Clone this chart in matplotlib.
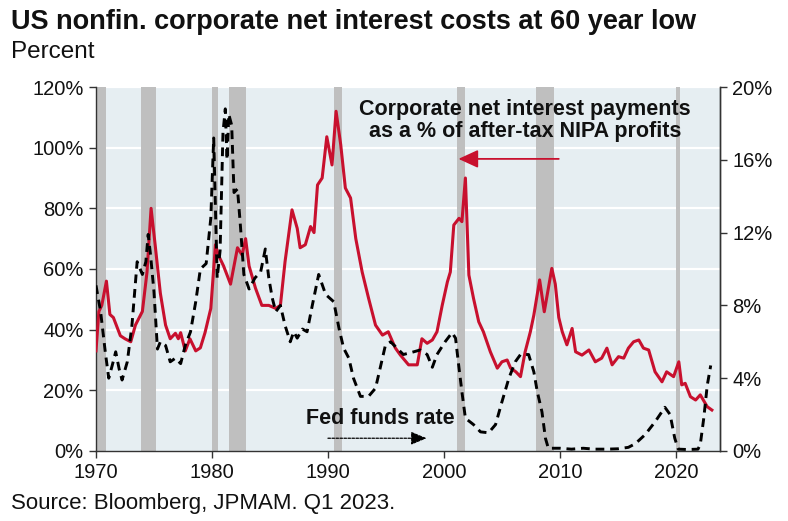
import matplotlib
matplotlib.use("Agg")
import matplotlib.pyplot as plt
from matplotlib.ticker import FixedLocator, FuncFormatter

plt.rcParams["font.family"] = ["Liberation Sans", "DejaVu Sans"]

# Corporate net interest payments as % of after-tax NIPA profits (left axis)
corp_years = [1970.0, 1970.25, 1970.5, 1970.9, 1971.2, 1971.5, 1971.8, 1972.1, 1972.5, 1973.0,
              1973.4, 1974.0, 1974.4, 1974.75, 1975.1, 1975.55, 1976.0, 1976.4, 1976.85, 1977.1,
              1977.3, 1977.7, 1978.1, 1978.6, 1979.0, 1979.4, 1979.9, 1980.3, 1980.55, 1981.0,
              1981.6, 1982.2, 1982.6, 1982.9, 1983.2, 1983.75, 1984.3, 1984.9, 1985.5, 1985.9,
              1986.3, 1986.9, 1987.35, 1987.6, 1988.05, 1988.5, 1988.8, 1989.1, 1989.5, 1989.9,
              1990.35, 1990.7, 1991.1, 1991.5, 1991.95, 1992.4, 1992.95, 1993.5, 1994.1, 1994.7,
              1995.2, 1995.8, 1996.25, 1996.95, 1997.7, 1998.1, 1998.55, 1999.0, 1999.4, 1999.85,
              2000.3, 2000.55, 2000.85, 2001.3, 2001.55, 2001.85, 2002.15, 2002.55, 2003.0, 2003.4,
              2004.0, 2004.6, 2005.0, 2005.45, 2005.75, 2006.2, 2006.6, 2007.0, 2007.45, 2007.75,
              2008.25, 2008.65, 2009.3, 2009.6, 2009.9, 2010.2, 2010.6, 2011.05, 2011.35, 2011.9,
              2012.5, 2013.05, 2013.6, 2014.05, 2014.5, 2015.05, 2015.5, 2015.9, 2016.35, 2016.8,
              2017.2, 2017.65, 2018.2, 2018.8, 2019.2, 2019.8, 2020.25, 2020.5, 2020.8, 2021.25,
              2021.7, 2022.1, 2022.7, 2023.1]
corp_values = [33, 46, 48, 56, 45, 44, 41, 38, 37, 36,
               41.5, 46, 59, 80, 68, 52, 41.5, 37, 38.8, 37,
               39, 33, 37, 33, 34, 39, 47, 68, 64.6, 61,
               55, 67, 64.6, 70, 61, 53.7, 48, 48, 47, 48,
               62.4, 79.5, 73.4, 67, 68, 74, 72, 87.7, 90, 103.6,
               94.3, 112, 101, 86.7, 83.4, 70, 59, 50.4, 41.5, 38.2,
               39.3, 34, 31.6, 28.4, 28.4, 37, 35.5, 36.6, 39.3, 48,
               55.8, 59, 74.5, 76.7, 75.6, 90, 58, 50.3, 42.6, 39.3,
               32.7, 27.3, 29.4, 30, 27.3, 26.1, 24.5, 32.7, 39.3, 44.8,
               56.4, 45.9, 60.2, 55, 44, 39.3, 35, 40.4, 32.7, 31.6,
               33.3, 29.4, 30.6, 33.9, 28.4, 31.1, 30.6, 33.9, 36, 36.6,
               33.9, 33.3, 26.1, 22.8, 26.1, 24.5, 29.4, 21.8, 22.3, 17.9,
               16.8, 18.5, 14.6, 13.5]

# Effective fed funds rate (right axis)
ffr_years = [1970.0, 1970.4, 1970.8, 1971.1, 1971.4, 1971.7, 1972.0, 1972.25, 1972.7, 1973.1,
             1973.55, 1974.0, 1974.3, 1974.5, 1974.7, 1975.0, 1975.3, 1975.55, 1976.0, 1976.4,
             1976.85, 1977.3, 1977.7, 1978.15, 1978.6, 1979.0, 1979.5, 1979.9, 1980.15, 1980.45,
             1980.7, 1980.95, 1981.15, 1981.3, 1981.45, 1981.7, 1981.9, 1982.2, 1982.45, 1982.75,
             1983.2, 1983.7, 1984.2, 1984.6, 1984.9, 1985.2, 1985.5, 1985.9, 1986.3, 1986.75,
             1987.05, 1987.35, 1987.8, 1988.2, 1988.65, 1989.2, 1989.8, 1990.5, 1990.95, 1991.35,
             1991.8, 1992.2, 1992.8, 1993.5, 1994.1, 1994.5, 1994.95, 1995.4, 1995.95, 1996.5,
             1997.4, 1997.95, 1998.55, 1999.0, 1999.4, 2000.1, 2000.7, 2001.0, 2001.3, 2001.55,
             2001.85, 2002.55, 2003.15, 2003.85, 2004.45, 2005.0, 2005.6, 2006.15, 2006.6, 2007.3,
             2007.75, 2008.05, 2008.45, 2008.75, 2009.0, 2010.0, 2011.0, 2012.0, 2013.0, 2014.0,
             2015.0, 2015.9, 2016.5, 2017.35, 2018.2, 2019.05, 2019.5, 2019.9, 2020.2, 2021.0,
             2021.9, 2022.1, 2022.4, 2022.7, 2023.0]
ffr_values = [9.1, 7.65, 5.45, 4.0, 4.7, 5.45, 4.5, 3.9, 4.9, 6.9,
              10.4, 9.7, 10.4, 11.9, 10.8, 8.75, 5.6, 6.0, 5.8, 4.9,
              5.1, 4.8, 5.8, 6.55, 8.2, 10.0, 10.3, 12.8, 17.2, 9.5,
              11.0, 17.5, 18.8, 16.0, 18.5, 17.9, 14.2, 14.4, 12.4, 9.7,
              8.9, 9.5, 9.85, 11.1, 9.5, 8.4, 7.65, 8.0, 6.9, 6.0,
              6.55, 6.2, 6.7, 6.55, 8.0, 9.7, 8.6, 8.2, 6.75, 5.65,
              5.1, 4.0, 3.0, 3.0, 3.45, 4.55, 5.8, 6.0, 5.65, 5.3,
              5.45, 5.55, 5.3, 4.6, 5.3, 6.0, 6.5, 6.2, 4.55, 3.25,
              1.8, 1.45, 1.05, 1.0, 1.45, 2.7, 4.0, 4.9, 5.3, 5.3,
              4.35, 3.25, 2.15, 0.7, 0.15, 0.15, 0.1, 0.15, 0.1, 0.1,
              0.12, 0.2, 0.4, 0.9, 1.6, 2.4, 2.0, 0.7, 0.1, 0.08,
              0.1, 0.35, 1.8, 3.6, 4.7]

# US recessions (start, end)
recession_starts = [1969.95, 1973.85, 1980.0, 1981.5, 1990.5, 2001.15, 2007.9, 2020.05]
recession_ends = [1970.9, 1975.2, 1980.55, 1982.9, 1991.2, 2001.85, 2009.5, 2020.35]

left_ticks = [0, 20, 40, 60, 80, 100, 120]
right_ticks = [0, 4, 8, 12, 16, 20]
year_ticks = [1970, 1980, 1990, 2000, 2010, 2020]

RED = "#c8102e"
BG = "#e6eef2"
BAR = "#bfbfbf"
INK = "#111111"
SPINE = "#333333"

fig = plt.figure(figsize=(7.88, 5.21), dpi=100)
ax = fig.add_axes([0.1218, 0.1344, 0.7919, 0.6986])
ax.set_facecolor(BG)

for y in left_ticks[1:]:
    ax.axhline(y, color="white", lw=1.6, zorder=1)
for s, e in zip(recession_starts, recession_ends):
    ax.axvspan(s, e, color=BAR, lw=0, zorder=2)

ax.plot(corp_years, corp_values, color=RED, lw=2.2, zorder=5, solid_joinstyle="round")
ax.set_xlim(1970, 2023.8)
ax.set_ylim(0, 120)

ax2 = ax.twinx()
ax2.plot(ffr_years, ffr_values, color="black", lw=2.1, dashes=(3, 2), zorder=4)
ax2.set_ylim(0, 20)

pct = FuncFormatter(lambda v, p: f"{v:.0f}%")
ax.yaxis.set_major_locator(FixedLocator(left_ticks))
ax.yaxis.set_major_formatter(pct)
ax2.yaxis.set_major_locator(FixedLocator(right_ticks))
ax2.yaxis.set_major_formatter(pct)
ax.xaxis.set_major_locator(FixedLocator(year_ticks))

for a in (ax, ax2):
    a.tick_params(axis="both", labelsize=14.5, length=5, width=1, color=SPINE,
                  labelcolor=INK, direction="out", pad=4)
    a.spines["top"].set_visible(False)
    for side in ("left", "right", "bottom"):
        a.spines[side].set_color(SPINE)
        a.spines[side].set_linewidth(1.0)
ax2.spines["left"].set_visible(False)
ax2.spines["bottom"].set_visible(False)

# annotations
ax2.text(2007.0, 18.15, "Corporate net interest payments\nas a % of after-tax NIPA profits",
         ha="center", va="center", fontsize=15.5, fontweight="bold", color=INK,
         linespacing=1.1, zorder=6)
ax2.annotate("", xy=(2001.25, 16.05), xytext=(2009.9, 16.05),
             arrowprops=dict(arrowstyle="-|>,head_length=1.2,head_width=0.55",
                             color=RED, lw=1.3, shrinkA=0, shrinkB=0), zorder=6)
ax2.text(1994.5, 1.8, "Fed funds rate", ha="center", va="center", fontsize=15.5,
         fontweight="bold", color=INK, zorder=6)
ax2.annotate("", xy=(1998.5, 0.7), xytext=(1990.0, 0.7),
             arrowprops=dict(arrowstyle="-|>,head_length=0.95,head_width=0.4",
                             color="black", lw=0.9, linestyle=(0, (2, 1.2)),
                             shrinkA=0, shrinkB=0), zorder=6)

fig.text(0.014, 0.957, "US nonfin. corporate net interest costs at 60 year low",
         fontsize=19.5, fontweight="bold", color=INK, va="center", ha="left")
fig.text(0.014, 0.900, "Percent", fontsize=17.5, color=INK, va="center", ha="left")
fig.text(0.014, 0.034, "Source: Bloomberg, JPMAM. Q1 2023.", fontsize=16, color=INK,
         va="center", ha="left")

fig.savefig("out.png", dpi=100)
